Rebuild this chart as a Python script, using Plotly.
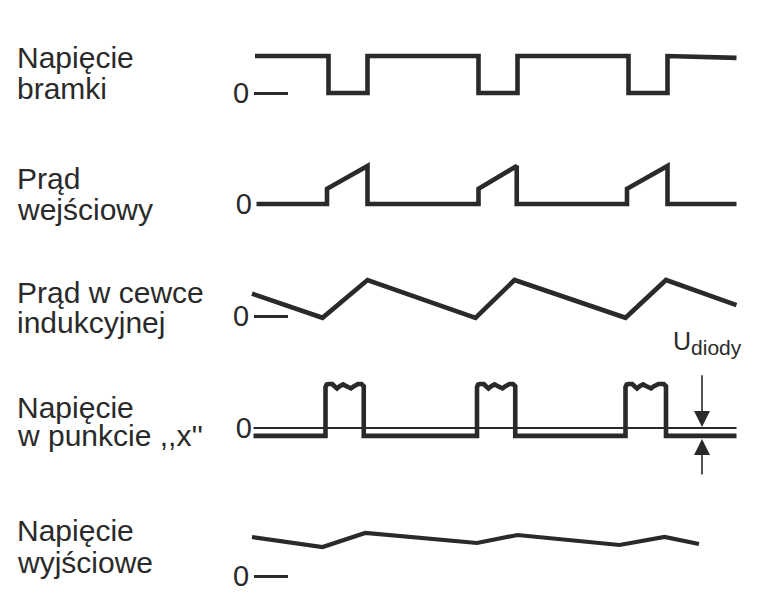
import plotly.graph_objects as go

# ---------------- data (arbitrary time units / relative amplitudes) ----------------
# Row 1: gate voltage (square wave)
gate_t = [0.0, 4.9, 4.9, 7.5, 7.5, 14.9, 14.9, 17.5, 17.5, 24.9, 24.9, 27.5, 27.5, 32.1]
gate_v = [1.0, 1.0, 0.0, 0.0, 1.0, 1.0, 0.0, 0.0, 1.0, 1.0, 0.0, 0.0, 1.0, 0.95]

# Row 2: input current (step + ramp)
in_t = [0.1, 4.8, 4.8, 7.5, 7.5, 14.9, 14.9, 17.45, 17.45, 24.8, 24.8, 27.5, 27.5, 32.1]
in_v = [0.0, 0.0, 0.4, 1.0, 0.0, 0.0, 0.4, 1.0, 0.0, 0.0, 0.4, 1.0, 0.0, 0.0]

# Row 3: inductor current (triangle)
coil_t = [-0.2, 4.5, 7.5, 14.7, 17.3, 24.7, 27.4, 32.1]
coil_v = [0.62, -0.05, 1.0, -0.05, 1.0, -0.05, 1.0, 0.3]

# Row 4: voltage at point "x" (pulses with wavy top, baseline = -U_diody)
px_t = [-0.1, 4.7, 4.7, 4.78, 4.9, 5.15, 5.3, 5.47, 5.65, 5.87, 6.1, 6.4, 6.6, 6.87, 7.1, 7.25, 7.25,
        14.8, 14.8, 14.88, 15.0, 15.25, 15.4, 15.57, 15.75, 15.97, 16.2, 16.5, 16.7, 16.97, 17.2, 17.35, 17.35,
        24.7, 24.7, 24.78, 24.9, 25.15, 25.3, 25.47, 25.65, 25.87, 26.1, 26.4, 26.6, 26.9, 27.25, 27.4, 27.4,
        32.1]
px_v = [-0.18, -0.18, 0.93, 0.99, 1.0, 1.0, 0.95, 0.9, 0.95, 0.99, 0.95, 0.9, 0.95, 1.0, 1.0, 0.95, -0.18,
        -0.18, 0.93, 0.99, 1.0, 1.0, 0.95, 0.9, 0.95, 0.99, 0.95, 0.9, 0.95, 1.0, 1.0, 0.95, -0.18,
        -0.18, 0.93, 0.99, 1.0, 1.0, 0.95, 0.9, 0.95, 0.99, 0.95, 0.9, 0.95, 1.0, 1.0, 0.95, -0.18,
        -0.18]
zero_ref_t = [-0.1, 32.1]
zero_ref_v = [0.0, 0.0]
u_diody = -0.18
arrow_t = 29.8

# Row 5: output voltage
out_t = [-0.2, 4.5, 7.35, 14.8, 17.5, 24.3, 27.3, 29.6]
out_v = [3.9, 2.9, 4.3, 3.3, 4.1, 3.1, 3.9, 3.2]

label_lines = ["Napięcie", "bramki", "Prąd", "wejściowy", "Prąd w cewce", "indukcyjnej",
               "Napięcie", "w punkcie ,,x''", "Napięcie", "wyjściowe"]

# ---------------- layout helpers ----------------
OFF = 8                      # page body margin
W, H = 759 - OFF, 597 - OFF  # figure size
INK = "#2a2a2a"
FONT = "Liberation Sans"
X0_PX, PX_PER_T = 255.0, 15.0
x_range = [(OFF - X0_PX) / PX_PER_T, (OFF + W - X0_PX) / PX_PER_T]


def band(zero_px, ppu, top_px, bottom_px):
    domain = [1 - (bottom_px - OFF) / H, 1 - (top_px - OFF) / H]
    rng = [(zero_px - bottom_px) / ppu, (zero_px - top_px) / ppu]
    return domain, rng


def px_x(p):
    return (p - OFF) / W


def px_y(p):
    return 1 - (p - OFF) / H


rows = [
    # zero_px, px per unit, band top, band bottom, tick dash?
    (93, 37, 20, 135, True),
    (204, 38, 140, 250, False),
    (316, 36, 255, 360, True),
    (428, 44, 362, 495, False),
    (576, 10, 500, 597, True),
]

fig = go.Figure()

series = [(gate_t, gate_v, 4.6), (in_t, in_v, 4.6), (coil_t, coil_v, 4.6),
          (px_t, px_v, 4.6), (out_t, out_v, 4.2)]
for i, (t, v, w) in enumerate(series):
    ya = "y" if i == 0 else f"y{i+1}"
    fig.add_trace(go.Scatter(x=t, y=v, mode="lines", yaxis=ya, xaxis="x",
                             line=dict(color=INK, width=w), hoverinfo="skip",
                             showlegend=False))
    if i == 3:
        fig.add_trace(go.Scatter(x=zero_ref_t, y=zero_ref_v, mode="lines", yaxis=ya,
                                 xaxis="x", line=dict(color=INK, width=1.8),
                                 hoverinfo="skip", showlegend=False))

layout = dict(
    width=W, height=H, margin=dict(l=0, r=0, t=0, b=0),
    paper_bgcolor="white", plot_bgcolor="white",
    xaxis=dict(range=x_range, visible=False, domain=[0, 1], fixedrange=True),
    showlegend=False,
    font=dict(family=FONT, color=INK),
)
for i, (zpx, ppu, top, bot, dash) in enumerate(rows):
    dom, rng = band(zpx, ppu, top, bot)
    name = "yaxis" if i == 0 else f"yaxis{i+1}"
    layout[name] = dict(
        domain=dom, range=rng, anchor="free",
        position=px_x(288) if dash else px_x(252),
        showgrid=False, zeroline=False, showline=False,
        tickvals=[0], ticktext=["0"],
        ticks="outside" if dash else "", ticklen=34 if dash else 0,
        ticklabelstandoff=-1 if dash else 0,
        tickwidth=3, tickcolor=INK,
        tickfont=dict(family=FONT, size=29, color=INK),
        fixedrange=True,
    )
fig.update_layout(**layout)

# left labels
label_centers = [57, 89, 178, 209, 292, 322, 407, 435, 530, 562]
for txt, cy in zip(label_lines, label_centers):
    fig.add_annotation(text=txt, xref="paper", yref="paper", x=px_x(15), y=px_y(cy),
                       xanchor="left", yanchor="middle", showarrow=False,
                       font=dict(family=FONT, size=30, color=INK))

# U_diody arrows
fig.add_annotation(x=arrow_t, y=0, xref="x", yref="y4", ax=arrow_t, ay=1.39,
                   axref="x", ayref="y4", showarrow=True, arrowhead=2, arrowsize=2.0,
                   arrowwidth=1.6, arrowcolor=INK, text=" ", standoff=1)
fig.add_annotation(x=arrow_t, y=u_diody, xref="x", yref="y4", ax=arrow_t, ay=-1.25,
                   axref="x", ayref="y4", showarrow=True, arrowhead=2, arrowsize=2.0,
                   arrowwidth=1.6, arrowcolor=INK, text=" ", standoff=3)
fig.add_annotation(text='U<sub><span style="font-size:21px">diody</span></sub>',
                   xref="paper", yref="paper", x=px_x(671), y=px_y(343),
                   xanchor="left", yanchor="middle", showarrow=False,
                   font=dict(family=FONT, size=25, color=INK))

fig.write_html("out.html", config={"displayModeBar": False})
